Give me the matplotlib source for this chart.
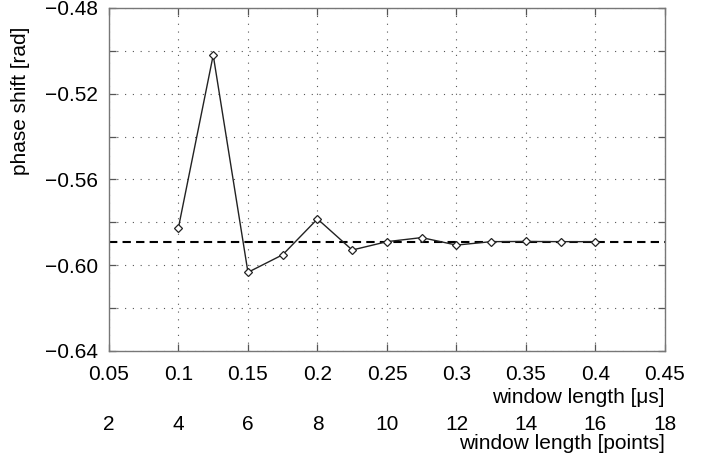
import matplotlib

matplotlib.use("Agg")
import matplotlib.pyplot as plt
from matplotlib.ticker import FixedLocator, FuncFormatter

# window length in microseconds and the measured phase shift
window_us = [0.1, 0.125, 0.15, 0.175, 0.2, 0.225, 0.25, 0.275, 0.3, 0.325, 0.35, 0.375, 0.4]
phase_shift = [-0.5824, -0.5020, -0.6033, -0.5951, -0.5784, -0.5929, -0.5890,
               -0.5871, -0.5906, -0.5890, -0.5889, -0.5890, -0.5890]
reference_phase = -0.5890

x_ticks = [0.05, 0.1, 0.15, 0.2, 0.25, 0.3, 0.35, 0.4, 0.45]
x_tick_labels = ["0.05", "0.1", "0.15", "0.2", "0.25", "0.3", "0.35", "0.4", "0.45"]
y_ticks = [-0.64, -0.62, -0.60, -0.58, -0.56, -0.54, -0.52, -0.50, -0.48]
y_labelled = [-0.64, -0.60, -0.56, -0.52, -0.48]
point_ticks = [2, 4, 6, 8, 10, 12, 14, 16, 18]
us_per_point = 0.025

plt.rcParams["font.family"] = ["Liberation Sans", "DejaVu Sans"]
FS = 15

fig = plt.figure(figsize=(7.15, 4.59), dpi=100)
ax = fig.add_axes([0.1524, 0.2353, 0.7776, 0.7473])

ax.axhline(reference_phase, color="black", lw=1.5, ls=(0, (4, 2.5)), zorder=2)
ax.plot(window_us, phase_shift, color="#222222", lw=1.0, marker="D", ms=4.5,
        mfc="white", mec="#222222", mew=0.9, zorder=3)

ax.set_xlim(0.05, 0.45)
ax.set_ylim(-0.64, -0.48)
ax.xaxis.set_major_locator(FixedLocator(x_ticks))
ax.set_xticklabels(x_tick_labels)
ax.yaxis.set_major_locator(FixedLocator(y_ticks))
ax.yaxis.set_major_formatter(FuncFormatter(
    lambda v, p: ("%.2f" % v).replace("-", "\u2212")
    if any(abs(v - t) < 1e-9 for t in y_labelled) else ""))

ax.grid(True, color="#555555", lw=0.8, ls=(0, (1, 6)))
ax.tick_params(direction="in", length=5, width=0.9, top=True, right=True,
               labelsize=FS, colors="#555555", labelcolor="black")
ax.tick_params(axis="x", pad=10)
ax.tick_params(axis="y", pad=8)
for s in ax.spines.values():
    s.set_color("#777777")
    s.set_linewidth(1.0)

ax.set_ylabel("phase shift [rad]", fontsize=FS)
ax.yaxis.set_label_coords(-0.142, 0.73)
ax.set_xlabel("window length [\u03bcs]", fontsize=FS, loc="right", labelpad=3)

# second x axis in points
sec = ax.secondary_xaxis(-0.178, functions=(lambda v: v / us_per_point,
                                            lambda v: v * us_per_point))
sec.set_xticks(point_ticks)
sec.tick_params(length=0, labelsize=FS, pad=2)
sec.spines["bottom"].set_visible(False)
sec.set_xlabel("window length [points]", fontsize=FS, loc="right", labelpad=0)

fig.savefig("out.png", dpi=100)
